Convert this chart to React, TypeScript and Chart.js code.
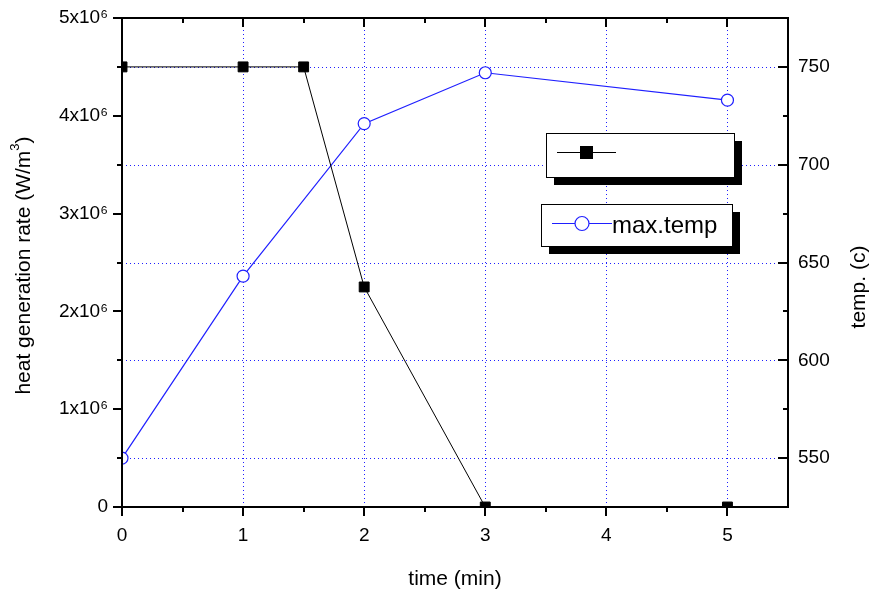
import React, { useEffect, useRef } from "react";
import { Chart, registerables } from "chart.js";

Chart.register(...registerables);

// ---- data ----
const heatTime = [0, 1, 1.5, 2, 3, 5];
const heatRate = [4.5e6, 4.5e6, 4.5e6, 2.25e6, 0, 0];
const tempTime = [0, 1, 2, 3, 5];
const maxTemp = [550, 643, 721, 747, 733];
const xTicks = [0, 1, 2, 3, 4, 5];
const leftTicks = [0, 1e6, 2e6, 3e6, 4e6, 5e6];
const rightTicks = [550, 600, 650, 700, 750];
const heatLabel = "";
const tempLabel = "max.temp";
const xTitle = "time (min)";
const leftTitle = "heat generation rate (W/m";
const rightTitle = "temp. (c)";

const FONT = "'Liberation Sans', Arimo, Arial, sans-serif";
const BLUE = "#1f1fff";
const W = 874;
const H = 607;

const framePlugin = {
  id: "frame",
  beforeDatasetsDraw(chart: any) {
    const { ctx, chartArea: a, scales } = chart;
    ctx.save();
    ctx.strokeStyle = BLUE;
    ctx.lineWidth = 1;
    ctx.setLineDash([1, 3]);
    for (const v of xTicks) {
      if (v === 0) continue;
      const px = Math.round(scales.x.getPixelForValue(v)) + 0.5;
      ctx.beginPath();
      ctx.moveTo(px, a.top);
      ctx.lineTo(px, a.bottom);
      ctx.stroke();
    }
    for (const v of rightTicks) {
      const py = Math.round(scales.y1.getPixelForValue(v)) + 0.5;
      ctx.beginPath();
      ctx.moveTo(a.left, py);
      ctx.lineTo(a.right, py);
      ctx.stroke();
    }
    ctx.restore();
  },
  afterDatasetsDraw(chart: any) {
    const { ctx, chartArea: a, scales } = chart;
    const sx = scales.x, sy = scales.y, sy1 = scales.y1;
    ctx.save();
    ctx.setLineDash([]);
    ctx.strokeStyle = "#000";
    ctx.lineWidth = 2;
    const seg = (x1: number, y1: number, x2: number, y2: number) => {
      ctx.beginPath();
      ctx.moveTo(x1, y1);
      ctx.lineTo(x2, y2);
      ctx.stroke();
    };
    // frame
    ctx.strokeRect(a.left, a.top, a.right - a.left, a.bottom - a.top);
    // bottom (outward) & top (inward) ticks
    for (let v = 0; v <= 5.001; v += 0.5) {
      const px = Math.round(sx.getPixelForValue(v));
      const major = Math.abs(v - Math.round(v)) < 1e-6;
      const len = major ? 9 : 5;
      seg(px, a.bottom, px, a.bottom + len);
      seg(px, a.top, px, a.top + len);
    }
    // left ticks outward
    for (let v = 0; v <= 5e6 + 1; v += 0.5e6) {
      const py = Math.round(sy.getPixelForValue(v));
      const major = v % 1e6 === 0;
      seg(a.left - (major ? 9 : 5), py, a.left, py);
    }
    // right ticks inward
    for (let v = 550; v <= 750; v += 25) {
      const py = Math.round(sy1.getPixelForValue(v));
      const major = v % 50 === 0;
      seg(a.right - (major ? 10 : 5), py, a.right, py);
    }
    ctx.restore();

    // axis titles
    ctx.save();
    ctx.fillStyle = "#000";
    ctx.font = `21px ${FONT}`;
    ctx.textBaseline = "middle";
    ctx.textAlign = "center";
    ctx.fillText(xTitle, (a.left + a.right) / 2, 579);
    // left title with superscript
    ctx.save();
    ctx.translate(24, (a.top + a.bottom) / 2 + 3);
    ctx.rotate(-Math.PI / 2);
    ctx.textAlign = "left";
    ctx.font = `21px ${FONT}`;
    const w1 = ctx.measureText(leftTitle).width;
    ctx.font = `13px ${FONT}`;
    const w2 = ctx.measureText("3").width;
    ctx.font = `21px ${FONT}`;
    const w3 = ctx.measureText(")").width;
    const start = -(w1 + w2 + w3) / 2;
    ctx.fillText(leftTitle, start, 0);
    ctx.font = `13px ${FONT}`;
    ctx.fillText("3", start + w1, -9);
    ctx.font = `21px ${FONT}`;
    ctx.fillText(")", start + w1 + w2, 0);
    ctx.restore();
    // right title
    ctx.save();
    ctx.translate(859, 287);
    ctx.rotate(-Math.PI / 2);
    ctx.textAlign = "center";
    ctx.fillText(rightTitle, 0, 0);
    ctx.restore();
    ctx.restore();

    // legend boxes
    const ds = chart.data.datasets;
    const box = (x: number, y: number, w: number, h: number) => {
      ctx.fillStyle = "#000";
      ctx.fillRect(x + 8, y + 8, w, h);
      ctx.fillStyle = "#fff";
      ctx.fillRect(x, y, w, h);
      ctx.strokeStyle = "#000";
      ctx.lineWidth = 1;
      ctx.strokeRect(x + 0.5, y + 0.5, w, h);
    };
    ctx.save();
    box(546, 133, 188, 44);
    ctx.strokeStyle = "#000";
    ctx.lineWidth = 1;
    ctx.beginPath();
    ctx.moveTo(557, 152.5);
    ctx.lineTo(616, 152.5);
    ctx.stroke();
    ctx.fillStyle = "#000";
    ctx.fillRect(580, 146, 13, 13);
    ctx.fillText(ds[0].label, 620, 152);

    box(541, 204, 191, 42);
    ctx.strokeStyle = ds[1].borderColor;
    ctx.lineWidth = 1.2;
    ctx.beginPath();
    ctx.moveTo(552, 223.5);
    ctx.lineTo(612, 223.5);
    ctx.stroke();
    ctx.beginPath();
    ctx.arc(582, 223.5, 7, 0, Math.PI * 2);
    ctx.fillStyle = "#fff";
    ctx.fill();
    ctx.stroke();
    ctx.fillStyle = "#000";
    ctx.font = `24px ${FONT}`;
    ctx.textAlign = "left";
    ctx.textBaseline = "middle";
    ctx.fillText(ds[1].label, 612, 226);
    ctx.restore();
  },
};

export default function App() {
  const ref = useRef<HTMLCanvasElement | null>(null);
  useEffect(() => {
    const canvas = ref.current;
    if (!canvas) return;
    const tickFont = { family: FONT, size: 19 };
    const chart = new Chart(canvas, {
      type: "line",
      data: {
        datasets: [
          {
            label: heatLabel,
            data: heatTime.map((t, i) => ({ x: t, y: heatRate[i] })),
            yAxisID: "y",
            borderColor: "#000",
            backgroundColor: "#000",
            borderWidth: 1,
            pointStyle: "rect",
            pointRadius: 7,
            pointBorderWidth: 1,
            pointBackgroundColor: "#000",
            pointBorderColor: "#000",
            tension: 0,
            clip: 0,
          },
          {
            label: tempLabel,
            data: tempTime.map((t, i) => ({ x: t, y: maxTemp[i] })),
            yAxisID: "y1",
            borderColor: BLUE,
            backgroundColor: "#fff",
            borderWidth: 1.2,
            pointStyle: "circle",
            pointRadius: 6,
            pointBorderWidth: 1.2,
            pointBackgroundColor: "#fff",
            pointBorderColor: BLUE,
            tension: 0,
            clip: 0,
          },
        ],
      },
      options: {
        responsive: false,
        devicePixelRatio: 1,
        animation: false,
        layout: { padding: { top: 18, left: 0, right: 0, bottom: 0 } },
        plugins: { legend: { display: false }, tooltip: { enabled: false } },
        scales: {
          x: {
            type: "linear",
            position: "bottom",
            min: 0,
            max: 5.5,
            grid: { display: false, drawTicks: false },
            border: { display: false },
            ticks: { font: tickFont, color: "#000", padding: 17, autoSkip: false, maxRotation: 0 },
            afterBuildTicks: (s: any) => {
              s.ticks = xTicks.map((v) => ({ value: v }));
            },
            afterFit: (s: any) => {
              s.height = H - 507;
              s.paddingLeft = 0;
              s.paddingRight = 0;
            },
          },
          y: {
            type: "linear",
            position: "left",
            min: 0,
            max: 5e6,
            grid: { display: false, drawTicks: false },
            border: { display: false },
            ticks: {
              font: tickFont,
              color: "#000",
              padding: 14,
              autoSkip: false,
              callback: (v: any) => (v === 0 ? "0" : `${Math.round(v / 1e6)}x10\u2076`),
            },
            afterBuildTicks: (s: any) => {
              s.ticks = leftTicks.map((v) => ({ value: v }));
            },
            afterFit: (s: any) => {
              s.width = 122;
              s.paddingTop = 0;
              s.paddingBottom = 0;
            },
          },
          y1: {
            type: "linear",
            position: "right",
            min: 525,
            max: 775,
            grid: { display: false, drawTicks: false },
            border: { display: false },
            ticks: { font: tickFont, color: "#000", padding: 10, autoSkip: false },
            afterBuildTicks: (s: any) => {
              s.ticks = rightTicks.map((v) => ({ value: v }));
            },
            afterFit: (s: any) => {
              s.width = W - 788;
              s.paddingTop = 0;
              s.paddingBottom = 0;
            },
          },
        },
      },
      plugins: [framePlugin],
    } as any);
    return () => chart.destroy();
  }, []);
  return (
    <canvas
      ref={ref}
      width={W}
      height={H}
      style={{ position: "fixed", left: 0, top: 0, width: W, height: H }}
    />
  );
}
